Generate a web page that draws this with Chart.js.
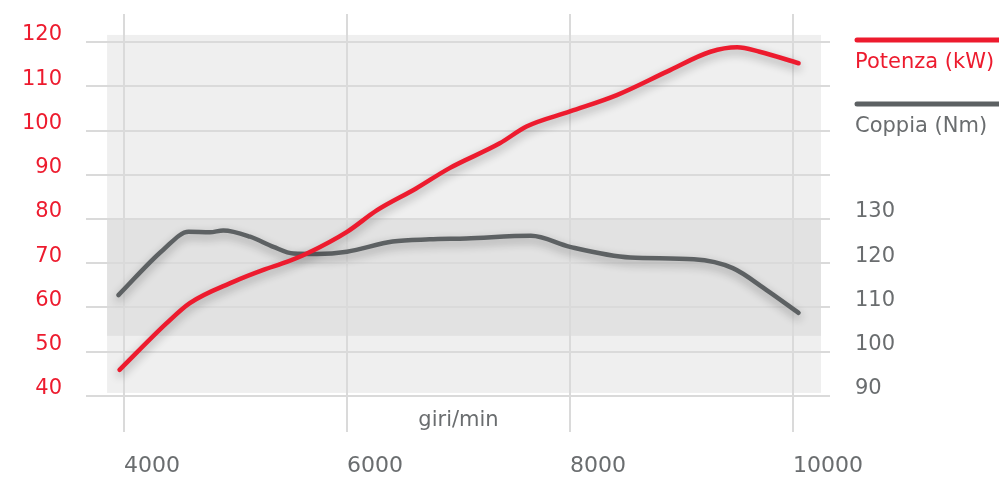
<!DOCTYPE html>
<html lang="it">
<head>
<meta charset="utf-8">
<title>Potenza e coppia</title>
<script src="https://cdn.jsdelivr.net/npm/chart.js@4.4.1/dist/chart.umd.min.js"></script>
<style>
  html, body { margin: 0; padding: 0; background: #fff; }
  #wrap { width: 999px; height: 479px; position: relative; }
</style>
</head>
<body>
<div id="wrap"><canvas id="motore" width="999" height="479"></canvas></div>
<script>
// =======================
// DATI
// =======================
const giriPotenza = [3960, 4380, 4590, 4980, 5250, 5460, 5640, 6000, 6270, 6620, 6920, 7370, 7610, 8000, 8420, 8870, 9260, 9500, 9700, 10050];
const potenzaKw   = [45.9, 56.4, 61.0, 65.8, 68.5, 70.3, 72.2, 77.1, 82.0, 86.9, 91.5, 97.1, 100.9, 104.3, 108.0, 113.3, 117.8, 118.8, 117.8, 115.2];

const giriCoppia  = [3950, 4350, 4580, 4770, 4890, 5130, 5340, 5520, 5730, 6000, 6410, 6740, 7070, 7650, 8000, 8540, 9110, 9460, 9760, 10050];
const coppiaNm    = [112.8, 123.0, 127.1, 127.0, 127.4, 126.0, 123.7, 122.2, 122.1, 122.6, 124.9, 125.4, 125.6, 126.2, 123.7, 121.3, 120.9, 118.9, 114.0, 108.8];

const tickGiri    = [4000, 6000, 8000, 10000];
const tickPotenza = [40, 50, 60, 70, 80, 90, 100, 110, 120];
const tickCoppia  = [90, 100, 110, 120, 130];

const labelPotenza = "Potenza (kW)";
const labelCoppia  = "Coppia (Nm)";
const titoloGiri   = "giri/min";

// colori
const ROSSO = "#ed1b2e";
const GRIGIO = "#5d6163";
const TESTO_GRIGIO = "#6a6d6f";
const GRIGLIA = "#dadada";

const FONT = "'DejaVu Sans', sans-serif";

// =======================
// PLUGIN
// =======================
// pannelli grigi dietro al grafico (in unita' dei dati)
const sfondoPlugin = {
  id: "sfondo",
  beforeDraw(chart) {
    const { ctx, scales: { x, y } } = chart;
    const pannello = (x0, x1, y0, y1, colore) => {
      const px0 = x.getPixelForValue(x0), px1 = x.getPixelForValue(x1);
      const py0 = y.getPixelForValue(y0), py1 = y.getPixelForValue(y1);
      ctx.fillStyle = colore;
      ctx.fillRect(px0, py1, px1 - px0, py0 - py1);
    };
    ctx.save();
    pannello(3848, 10251, 40.7, 121.6, "#efefef");
    pannello(3848, 10251, 53.6, 80, "#e2e2e2");
    ctx.restore();
  }
};

// ombra morbida sotto le curve
const ombraPlugin = {
  id: "ombra",
  beforeDatasetsDraw(chart) {
    const ctx = chart.ctx;
    ctx.save();
    ctx.shadowColor = "rgba(0,0,0,0.32)";
    ctx.shadowBlur = 10;
    ctx.shadowOffsetY = 4;
  },
  afterDatasetsDraw(chart) {
    chart.ctx.restore();
  }
};

// legenda a destra + etichetta giri/min
const legendaPlugin = {
  id: "legenda",
  afterDraw(chart) {
    const { ctx, scales: { x } } = chart;
    ctx.save();
    ctx.font = "21px " + FONT;
    ctx.textAlign = "left";
    ctx.textBaseline = "middle";
    chart.data.datasets.forEach((ds, i) => {
      const yLinea = 40 + i * 64;
      ctx.strokeStyle = ds.borderColor;
      ctx.lineWidth = 5;
      ctx.lineCap = "round";
      ctx.beginPath();
      ctx.moveTo(857, yLinea);
      ctx.lineTo(1004, yLinea);
      ctx.stroke();
      ctx.fillStyle = i === 0 ? ROSSO : TESTO_GRIGIO;
      ctx.fillText(ds.label, 855, yLinea + 23);
    });
    ctx.textAlign = "center";
    ctx.fillStyle = TESTO_GRIGIO;
    ctx.fillText(titoloGiri, x.getPixelForValue(7000), 421);
    ctx.restore();
  }
};

// =======================
// GRAFICO
// =======================
const fissaTick = (valori) => (scale) => {
  scale.ticks = valori.map(v => ({ value: v }));
};

// dimensione fissa degli assi, senza margini extra per le etichette
const fissaLato = (prop, valore) => (s) => {
  s[prop] = valore;
  s.paddingTop = 0;
  s.paddingBottom = 0;
  s.paddingLeft = 0;
  s.paddingRight = 0;
};

new Chart(document.getElementById("motore").getContext("2d"), {
  type: "line",
  data: {
    datasets: [{
      label: labelPotenza,
      data: giriPotenza.map((g, i) => ({ x: g, y: potenzaKw[i] })),
      borderColor: ROSSO,
      borderWidth: 4.5,
      yAxisID: "y",
      cubicInterpolationMode: "monotone",
      borderCapStyle: "round",
      pointRadius: 0,
      clip: false
    }, {
      label: labelCoppia,
      data: giriCoppia.map((g, i) => ({ x: g, y: coppiaNm[i] })),
      borderColor: GRIGIO,
      borderWidth: 4.5,
      yAxisID: "y2",
      cubicInterpolationMode: "monotone",
      borderCapStyle: "round",
      pointRadius: 0,
      clip: false
    }]
  },
  options: {
    responsive: false,
    animation: false,
    devicePixelRatio: 1,
    layout: { padding: { top: 14, left: 0, right: 0, bottom: 0 } },
    plugins: { legend: { display: false }, tooltip: { enabled: false } },
    scales: {
      x: {
        type: "linear",
        min: 3659,
        max: 10332,
        afterBuildTicks: fissaTick(tickGiri),
        afterFit: fissaLato("height", 47),
        grid: { color: GRIGLIA, lineWidth: 2, drawTicks: false },
        border: { display: false },
        ticks: {
          align: "start",
          padding: 21,
          color: TESTO_GRIGIO,
          font: { family: FONT, size: 22 },
          callback: (v) => String(v)
        }
      },
      y: {
        position: "left",
        min: 31.86,
        max: 126.33,
        afterBuildTicks: fissaTick(tickPotenza),
        afterFit: fissaLato("width", 86),
        grid: { color: GRIGLIA, lineWidth: 2, drawTicks: false },
        border: { display: false },
        ticks: {
          padding: 24,
          labelOffset: -7,
          color: ROSSO,
          font: { family: FONT, size: 21 }
        }
      },
      y2: {
        position: "right",
        min: 81.86,
        max: 176.33,
        afterBuildTicks: fissaTick(tickCoppia),
        afterFit: fissaLato("width", 169),
        grid: { display: false, drawTicks: false },
        border: { display: false },
        ticks: {
          padding: 25,
          labelOffset: -7,
          color: TESTO_GRIGIO,
          font: { family: FONT, size: 21 }
        }
      }
    }
  },
  plugins: [sfondoPlugin, ombraPlugin, legendaPlugin]
});
</script>
</body>
</html>
